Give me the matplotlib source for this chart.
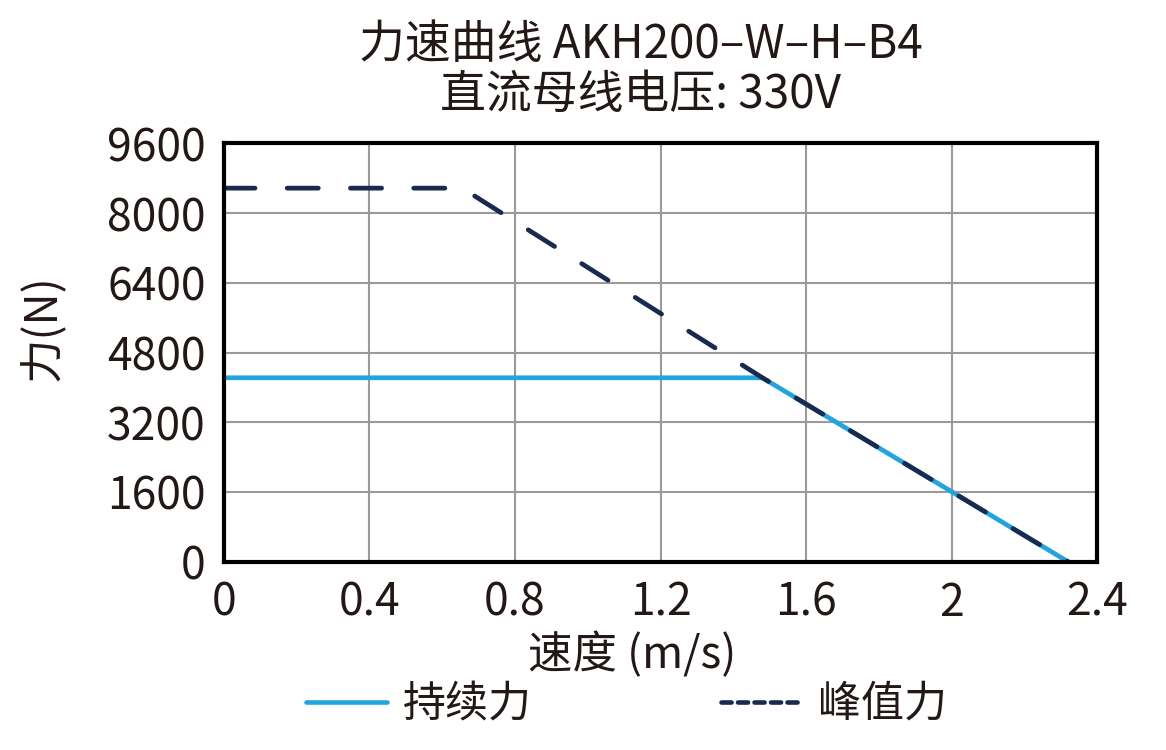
import numpy as np
import matplotlib
matplotlib.use('Agg')
import matplotlib.pyplot as plt
from matplotlib.lines import Line2D

plt.rcParams['font.family'] = ['Noto Sans CJK SC', 'DejaVu Sans']

# curve data
speed_cont = [0, 1.48, 2.32]
force_cont = [4220, 4220, 0]
speed_peak = [0, 0.655, 1.48, 2.32]
force_peak = [8570, 8570, 4220, 0]

x_ticks = [0, 0.4, 0.8, 1.2, 1.6, 2.0, 2.4]
x_labels = ['0', '0.4', '0.8', '1.2', '1.6', '2', '2.4']
y_ticks = [0, 1600, 3200, 4800, 6400, 8000, 9600]

c_cont = '#22A5DE'
c_peak = '#182A50'
c_text = '#231815'

fig = plt.figure(figsize=(11.66, 7.5), dpi=100)
ax = fig.add_axes([0.192, 0.251, 0.749, 0.558])

ax.plot(speed_cont, force_cont, color=c_cont, lw=3.4, solid_capstyle='round')
ax.plot(speed_peak, force_peak, color=c_peak, lw=3.4, dashes=(6.6, 6.8),
        dash_capstyle='round')

ax.set_xlim(0, 2.4)
ax.set_ylim(0, 9600)
ax.set_xticks(x_ticks)
ax.set_xticklabels(x_labels)
ax.set_yticks(y_ticks)
ax.tick_params(length=0, labelsize=32, colors=c_text, pad=13)
ax.grid(True, color='#9a9a9a', lw=1.5)
ax.set_axisbelow(True)
for s in ax.spines.values():
    s.set_color('black')
    s.set_linewidth(3)

# titles and axis labels
fig.text(0.55, 1 - 45 / 750, '力速曲线 AKH200–W–H–B4', fontsize=33,
         color=c_text, ha='center', va='center')
fig.text(0.549, 1 - 95 / 750, '直流母线电压: 330V', fontsize=33,
         color=c_text, ha='center', va='center')
fig.text(0.542, 1 - 655 / 750, '速度 (m/s)', fontsize=32,
         color=c_text, ha='center', va='center')
fig.text(42 / 1166, 1 - 328 / 750, '力(N)', fontsize=32, rotation=90,
         color=c_text, ha='center', va='center')

h1 = Line2D([], [], color=c_cont, lw=3.3, solid_capstyle='round')
h2 = Line2D([], [], color=c_peak, lw=3.3, dashes=(2.2, 1.4), dash_capstyle='round')
fig.legend([h1, h2], ['持续力', '峰值力'], loc='center', bbox_to_anchor=(0.537, 0.06),
           ncol=2, frameon=False, fontsize=31, handlelength=1.9, handletextpad=0.35,
           columnspacing=4.4, labelcolor=c_text)

fig.savefig('out.png', dpi=100)
